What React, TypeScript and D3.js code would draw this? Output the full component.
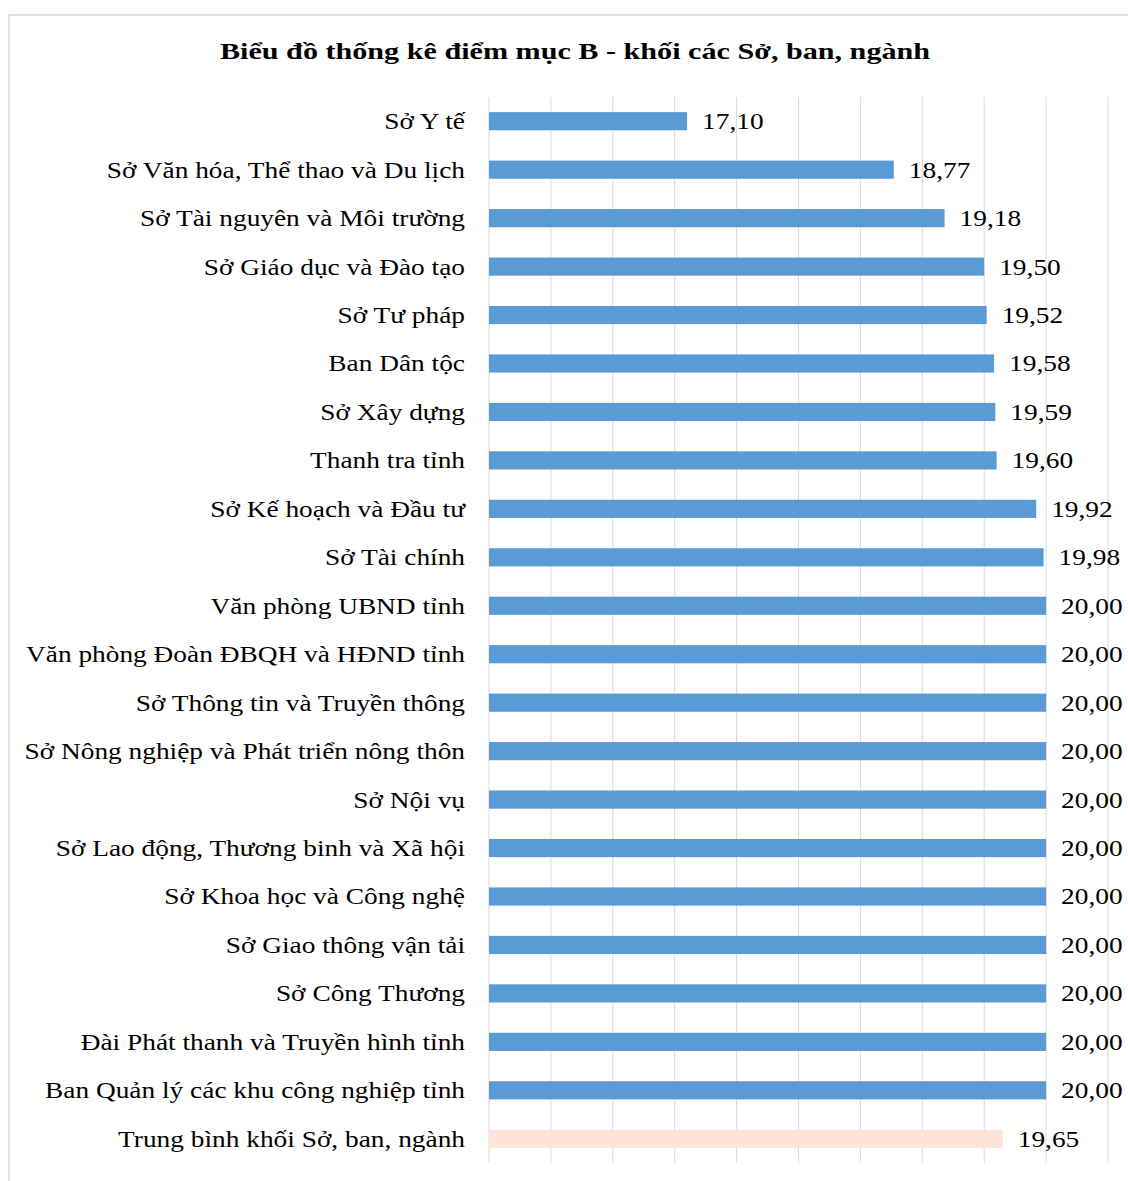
import React from "react";
import * as d3 from "d3";

const categories: string[] = [
  "Sở Y tế",
  "Sở Văn hóa, Thể thao và Du lịch",
  "Sở Tài nguyên và Môi trường",
  "Sở Giáo dục và Đào tạo",
  "Sở Tư pháp",
  "Ban Dân tộc",
  "Sở Xây dựng",
  "Thanh tra tỉnh",
  "Sở Kế hoạch và Đầu tư",
  "Sở Tài chính",
  "Văn phòng UBND tỉnh",
  "Văn phòng Đoàn ĐBQH và HĐND tỉnh",
  "Sở Thông tin và Truyền thông",
  "Sở Nông nghiệp và Phát triển nông thôn",
  "Sở Nội vụ",
  "Sở Lao động, Thương binh và Xã hội",
  "Sở Khoa học và Công nghệ",
  "Sở Giao thông vận tải",
  "Sở Công Thương",
  "Đài Phát thanh và Truyền hình tỉnh",
  "Ban Quản lý các khu công nghiệp tỉnh",
  "Trung bình khối Sở, ban, ngành",
];

const values: number[] = [
  17.1, 18.77, 19.18, 19.5, 19.52, 19.58, 19.59, 19.6, 19.92, 19.98, 20.0,
  20.0, 20.0, 20.0, 20.0, 20.0, 20.0, 20.0, 20.0, 20.0, 20.0, 19.65,
];

const averageLabel = "Trung bình khối Sở, ban, ngành";
const gridTicks: number[] = [15.5, 16, 16.5, 17, 17.5, 18, 18.5, 19, 19.5, 20, 20.5];
const title = "Biểu đồ thống kê điểm mục B - khối các Sở, ban, ngành";

const W = 1128;
const H = 1181;
const FONT = "'Liberation Serif', 'Times New Roman', serif";
const SX = 1.14;
const TSX = 1.34;

export default function App() {
  const x = d3.scaleLinear().domain([15.5, 20.5]).range([489, 1108]);
  const y = d3
    .scaleBand<string>()
    .domain(categories)
    .range([97, 1163])
    .paddingInner(0.625)
    .paddingOuter(0.3125);
  const fmt = (v: number) => d3.format(".2f")(v).replace(".", ",");

  return (
    <svg
      width={W}
      height={H}
      style={{ position: "absolute", left: 0, top: 0, background: "#fff" }}
    >
      <rect x={0} y={0} width={W} height={H} fill="#fff" />
      <rect
        x={9}
        y={15}
        width={1300}
        height={1300}
        fill="none"
        stroke="#d9d9d9"
        strokeWidth={1.5}
      />
      <text
        transform={`translate(${575},${51}) scale(${TSX},1)`}
        textAnchor="middle"
        dominantBaseline="central"
        fontFamily={FONT}
        fontWeight="bold"
        fontSize={22.5}
        fill="#000"
      >
        {title}
      </text>
      {gridTicks.map((t) => (
        <line
          key={t}
          x1={x(t)}
          x2={x(t)}
          y1={97}
          y2={1163}
          stroke="#d9d9d9"
          strokeWidth={1}
        />
      ))}
      {categories.map((c, i) => {
        const yy = y(c)!;
        const bw = y.bandwidth();
        const isAvg = c === averageLabel;
        return (
          <g key={c}>
            <rect
              x={x(15.5)}
              y={yy}
              width={x(values[i]) - x(15.5)}
              height={bw}
              fill={isAvg ? "#fbe5d6" : "#5b9bd5"}
            />
            <text
              transform={`translate(465,${yy + bw / 2}) scale(${SX},1)`}
              textAnchor="end"
              dominantBaseline="central"
              fontFamily={FONT}
              fontSize={24}
              fill="#000"
            >
              {c}
            </text>
            <text
              transform={`translate(${x(values[i]) + 15},${yy + bw / 2}) scale(${SX},1)`}
              textAnchor="start"
              dominantBaseline="central"
              fontFamily={FONT}
              fontSize={24}
              fill="#000"
            >
              {fmt(values[i])}
            </text>
          </g>
        );
      })}
    </svg>
  );
}
